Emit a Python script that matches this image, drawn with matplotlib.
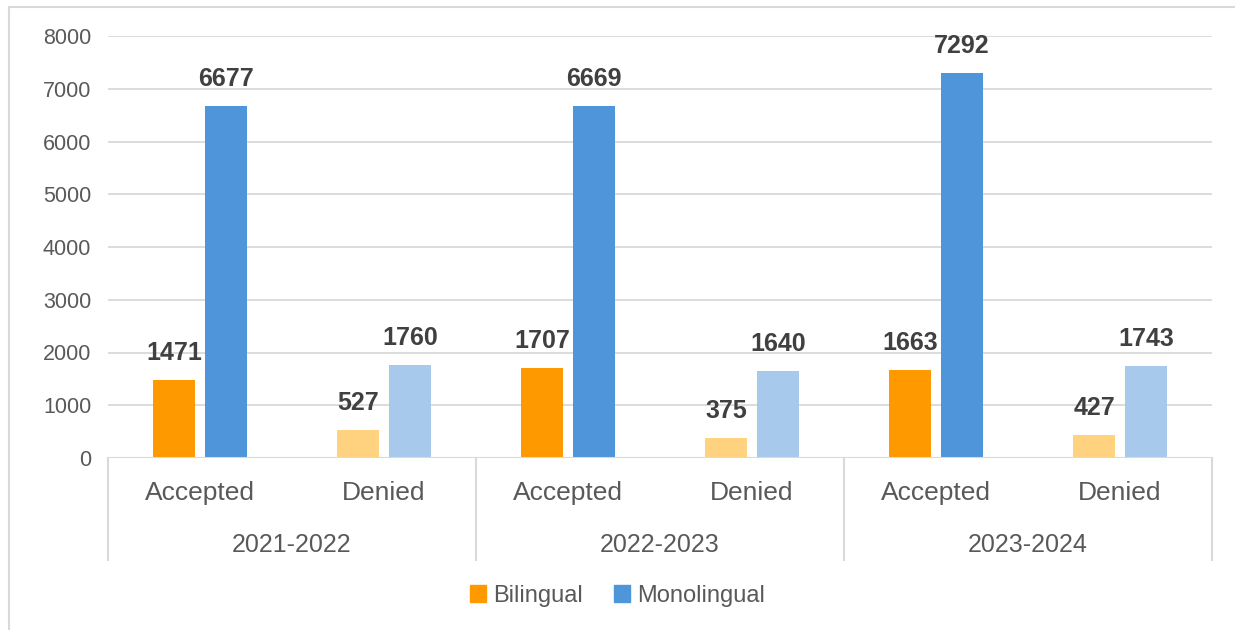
import numpy as np
import matplotlib.pyplot as plt
from matplotlib.patches import Rectangle

# データ
years = ["2021-2022", "2022-2023", "2023-2024"]
statuses = ["Accepted", "Denied"]
bilingual = [1471, 527, 1707, 375, 1663, 427]
monolingual = [6677, 1760, 6669, 1640, 7292, 1743]

c_bi = ["#FF9900", "#FFD27F"]
c_mono = ["#4F95D9", "#A7CAEC"]
txt = "#595959"
grid = "#D9D9D9"

plt.rcParams['font.family'] = ['Liberation Sans', 'DejaVu Sans']

fig = plt.figure(figsize=(12.35, 6.3), dpi=100)
W, H = 1235, 630
ax = fig.add_axes([108 / W, 1 - 458 / H, (1212 - 108) / W, (458 - 36) / H])

x = np.arange(len(bilingual))
bw = 0.228
off = 0.141
cols_bi = [c_bi[i % 2] for i in x]
cols_mono = [c_mono[i % 2] for i in x]
bars1 = ax.bar(x - off, bilingual, bw, color=cols_bi, zorder=3)
bars2 = ax.bar(x + off, monolingual, bw, color=cols_mono, zorder=3)

for bars, vals in [(bars1, bilingual), (bars2, monolingual)]:
    for b, v in zip(bars, vals):
        ax.annotate(str(v), (b.get_x() + b.get_width() / 2, v), xytext=(0, 11),
                    textcoords="offset points", ha="center", va="bottom",
                    fontsize=18, fontweight="bold", color="#404040")

ax.set_xlim(-0.5, len(x) - 0.5)
ax.set_ylim(0, 8000)
ax.set_yticks(range(0, 8001, 1000))
ax.tick_params(axis="y", length=0, labelsize=15.5, labelcolor=txt, pad=12)
ax.set_xticks([])
ax.grid(axis="y", color=grid, linewidth=1.3, zorder=0)
for s in ax.spines.values():
    s.set_visible(False)
ax.axhline(0, color=grid, linewidth=1.5, zorder=4)

# 2段のカテゴリ軸
trans = ax.get_xaxis_transform()
for i in x:
    ax.text(i, -0.083, statuses[i % 2], transform=trans, ha="center", va="center",
            fontsize=19, color=txt)
for j, yr in enumerate(years):
    ax.text(2 * j + 0.5, -0.207, yr, transform=trans, ha="center", va="center",
            fontsize=18, color=txt)
for xs in [-0.5, 1.5, 3.5, 5.5]:
    ax.plot([xs, xs], [0, -0.242], transform=trans, color=grid, linewidth=1.5,
            clip_on=False)

# 凡例
handles = [Rectangle((0, 0), 1, 1, color=c_bi[0]), Rectangle((0, 0), 1, 1, color=c_mono[0])]
fig.legend(handles, ["Bilingual", "Monolingual"], loc="center", bbox_to_anchor=(0.5, 1 - 596 / H),
           ncol=2, frameon=False, fontsize=17, labelcolor=txt, handlelength=0.7,
           handleheight=0.7, handletextpad=0.3, columnspacing=1.3)

# 外枠
fig.patches.append(Rectangle((9 / W, -0.05), 1.1, 1 - 7 / H + 0.05, transform=fig.transFigure,
                             fill=False, edgecolor=grid, linewidth=1.5))

fig.savefig("out.png", dpi=100)
